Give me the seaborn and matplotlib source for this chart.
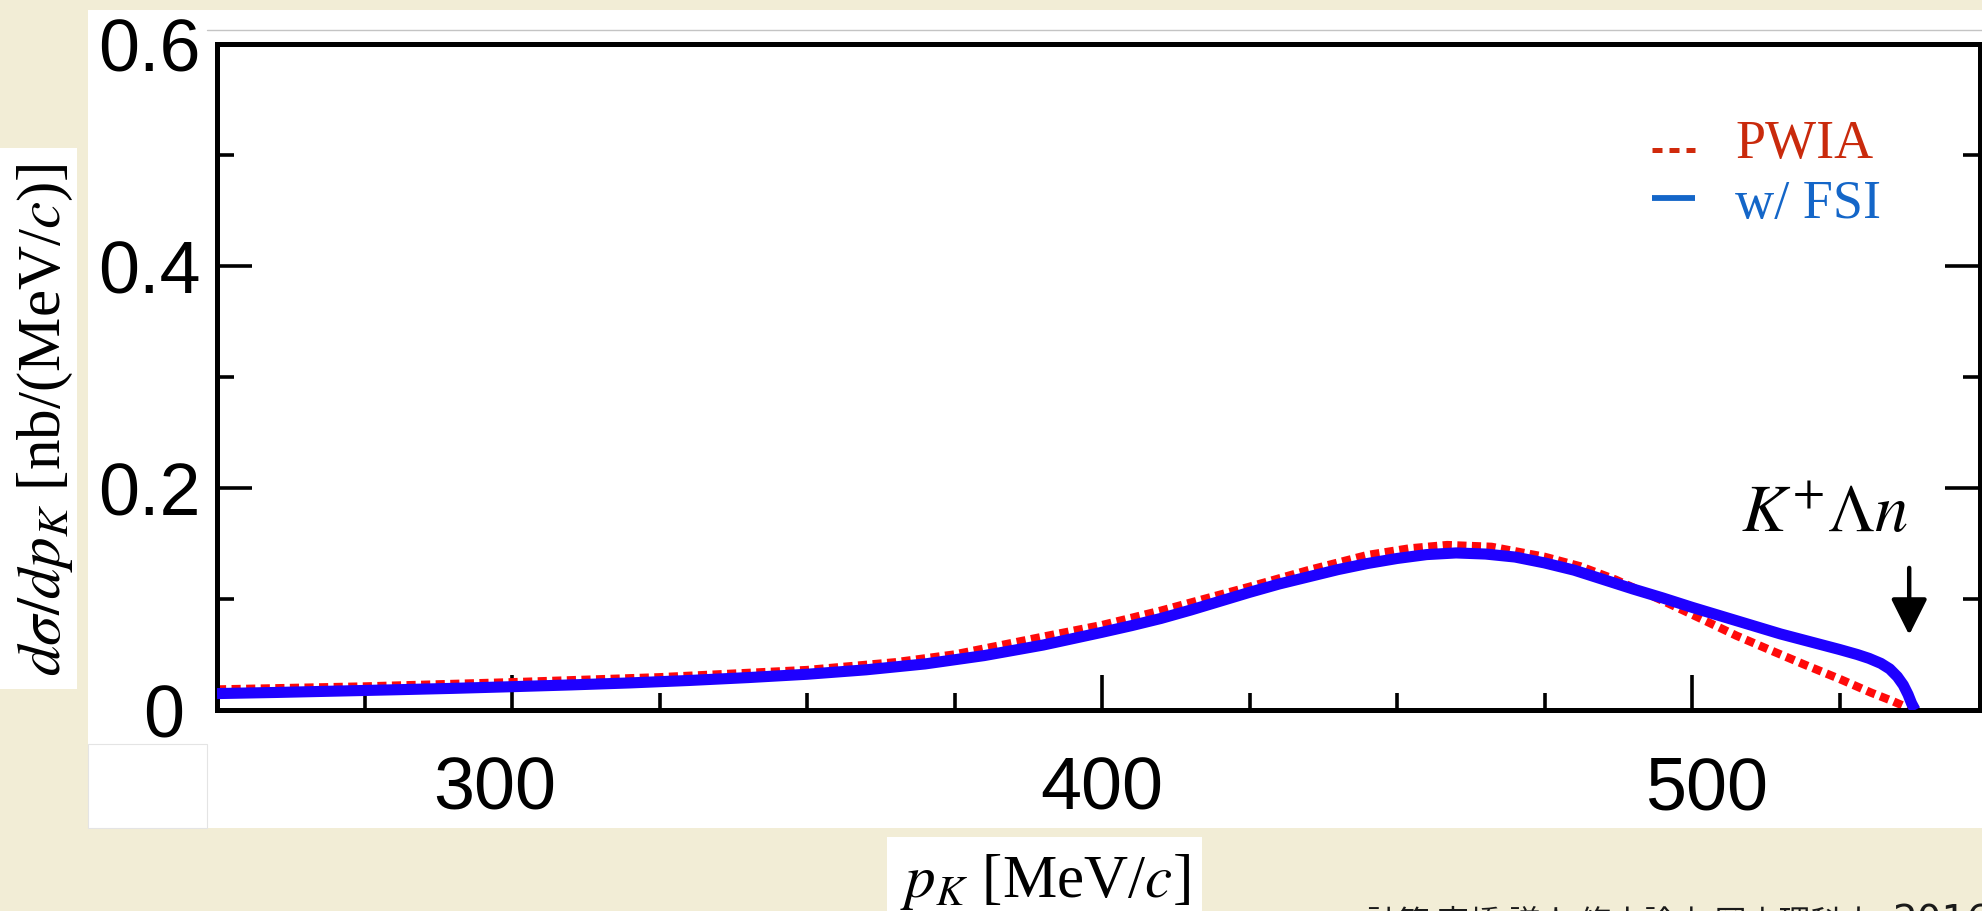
import numpy as np
import pandas as pd
import matplotlib
matplotlib.use("Agg")
import matplotlib.pyplot as plt
import matplotlib.transforms as mtransforms
from matplotlib.patches import Rectangle
from matplotlib.lines import Line2D
from matplotlib.ticker import FixedLocator
import seaborn as sns

# ---------------- data ----------------
p_fsi = [250, 260, 270, 280, 290, 300, 310, 320, 330, 340, 350, 360, 370, 380,
         390, 400, 405, 410, 415, 420, 425, 430, 435, 440, 445, 450, 455, 460,
         465, 470, 475, 480, 485, 490, 495, 500, 505, 510, 515, 520, 525, 528,
         530, 532, 533.5, 534.8, 535.8, 536.6, 537.2, 537.8]
sigma_fsi = [0.0148, 0.0158, 0.0170, 0.0182, 0.0195, 0.0210, 0.0226, 0.0244,
             0.0266, 0.0292, 0.0322, 0.0362, 0.0415, 0.0490, 0.0585, 0.0700,
             0.0760, 0.0825, 0.0900, 0.0980, 0.1060, 0.1135, 0.1200, 0.1265,
             0.1320, 0.1365, 0.1400, 0.1415, 0.1405, 0.1378, 0.1325, 0.1260,
             0.1175, 0.1090, 0.1010, 0.0925, 0.0845, 0.0765, 0.0685, 0.0615,
             0.0545, 0.0500, 0.0465, 0.0420, 0.0370, 0.0300, 0.0225, 0.0140,
             0.0060, 0.0]

p_pwia = [250, 275, 300, 325, 350, 365, 375, 383, 390, 400, 410, 418, 425, 435,
          445, 452, 458.5, 466, 475, 481, 487, 491, 495, 500, 507.5, 513, 519,
          525, 530.4, 534, 536.6, 537.3]
sigma_pwia = [0.0185, 0.0212, 0.0250, 0.0295, 0.0360, 0.0430, 0.0500, 0.0585,
              0.0660, 0.0765, 0.0895, 0.1010, 0.1110, 0.1260, 0.1396, 0.1455,
              0.1486, 0.1470, 0.1380, 0.1295, 0.1175, 0.1080, 0.0985, 0.0860,
              0.0670, 0.0545, 0.0410, 0.0280, 0.0155, 0.0080, 0.0020, 0.0]

x_major = [300, 400, 500]
x_minor = [275, 325, 350, 375, 425, 450, 475, 525]
y_major = [0.0, 0.2, 0.4, 0.6]
y_major_labels = ["0", "0.2", "0.4", "0.6"]
y_minor = [0.1, 0.3, 0.5]
legend_labels = ["PWIA", "w/ FSI"]
threshold_p = 536.8
threshold_label = r"$K^{+}\Lambda n$"
xlabel_text = r"$p_K$ [MeV/$c$]"
ylabel_text = r"$d\sigma/dp_K$ [nb/(MeV/$c$)]"
credit_words = "計算 高橋 謙人 修士論文 岡山理科大"
credit_year = "2016"

# ---------------- styling ----------------
W, H = 1982, 911
sns.set_theme(style="white")
plt.rcParams["font.family"] = ["Liberation Sans", "DejaVu Sans"]
plt.rcParams["mathtext.fontset"] = "stix"

fig = plt.figure(figsize=(W / 100, H / 100), dpi=100)
fig.patch.set_facecolor("#f2edd6")


def fx(px):
    return px / W


def fy(py):
    return 1 - py / H


def white_box(x0, y0, x1, y1, ec="none", lw=0.0):
    fig.add_artist(Rectangle((fx(x0), fy(y1)), fx(x1) - fx(x0), fy(y0) - fy(y1),
                             transform=fig.transFigure, facecolor="white",
                             edgecolor=ec, linewidth=lw, zorder=0))


white_box(88, 10, 1982, 828)
white_box(0, 148, 77, 689)
white_box(887, 837, 1202, 911)
white_box(88, 744, 207, 828, ec="#e4e4e4", lw=0.8)
fig.add_artist(Line2D([fx(207), fx(1982)], [fy(30), fy(30)], transform=fig.transFigure,
                      color="#c4c4c4", lw=1.0, zorder=1))

ax = fig.add_axes([fx(217), fy(710), fx(1980) - fx(217), fy(44) - fy(710)])
ax.set_facecolor("white")

df_pwia = pd.DataFrame({"p": p_pwia, "sigma": sigma_pwia})
df_fsi = pd.DataFrame({"p": p_fsi, "sigma": sigma_fsi})

sns.lineplot(data=df_pwia, x="p", y="sigma", ax=ax, color="#ff0a0a", linewidth=6.0,
             estimator=None, sort=False, zorder=2)
red_line = ax.lines[-1]
red_line.set_dashes((1.1, 0.65))
red_line.set_dash_capstyle("butt")
red_line.set_dash_joinstyle("round")

sns.lineplot(data=df_fsi, x="p", y="sigma", ax=ax, color="#1e00ff", linewidth=8.0,
             estimator=None, sort=False, zorder=3)
ax.lines[-1].set_solid_capstyle("butt")
ax.lines[-1].set_solid_joinstyle("round")

ax.set_xlim(250, 548.8)
ax.set_ylim(0, 0.6)
ax.set_xlabel("")
ax.set_ylabel("")

ax.set_xticks(x_major, labels=[str(v) for v in x_major])
ax.xaxis.set_minor_locator(FixedLocator(x_minor))
ax.set_yticks(y_major, labels=y_major_labels)
ax.yaxis.set_minor_locator(FixedLocator(y_minor))

for s in ax.spines.values():
    s.set_visible(True)
    s.set_color("black")
    s.set_linewidth(3.6)

ax.tick_params(which="major", direction="in", length=25, width=2.6, color="black")
ax.tick_params(which="minor", direction="in", length=12.5, width=2.6, color="black")
ax.tick_params(axis="x", which="both", bottom=True, top=False)
ax.tick_params(axis="y", which="both", left=True, right=True)
ax.tick_params(axis="x", labelsize=53, pad=33, labelcolor="black")
ax.tick_params(axis="y", labelsize=53, pad=12, labelcolor="black")


def shift_label(tick, dx_px):
    tick.label1.set_transform(tick.label1.get_transform() +
                              mtransforms.ScaledTranslation(dx_px / 100, 0,
                                                            fig.dpi_scale_trans))


# small label offsets seen in the reference
shift_label(ax.yaxis.get_major_ticks()[0], -16)
xt = ax.xaxis.get_major_ticks()
shift_label(xt[0], -17)
shift_label(xt[2], 14)

# axis titles (serif)
fig.text(fx(45), fy(420), ylabel_text, rotation=90, ha="center", va="center",
         fontsize=44, family="Liberation Serif", color="black")
fig.text(fx(1045), fy(897), xlabel_text, ha="center", va="baseline",
         fontsize=44, family="Liberation Serif", color="black")

# legend (manual)
fig.add_artist(Line2D([fx(1652), fx(1695)], [fy(150), fy(150)], transform=fig.transFigure,
                      color="#d02a0c", lw=3.6, dashes=(2.0, 1.4), dash_capstyle="butt"))
fig.add_artist(Line2D([fx(1652), fx(1695)], [fy(198), fy(198)], transform=fig.transFigure,
                      color="#1466c8", lw=4.2, solid_capstyle="butt"))
fig.text(fx(1735), fy(158), legend_labels[0], color="#c92a0c", fontsize=39,
         family="Liberation Serif", va="baseline", ha="left")
fig.text(fx(1735), fy(218), legend_labels[1], color="#1466c8", fontsize=39,
         family="Liberation Serif", va="baseline", ha="left")

# threshold annotation
ax.text(522.5, 0.160, threshold_label, ha="center", va="baseline", fontsize=48,
        color="black")
ax.annotate("", xy=(threshold_p, 0.0676), xytext=(threshold_p, 0.128),
            arrowprops=dict(arrowstyle="-|>,head_length=1.1,head_width=0.55",
                            mutation_scale=20, color="black", lw=3.2,
                            shrinkA=0, shrinkB=0))

# credit line (cut off at the bottom edge, as in the reference)
fig.text(fx(1366), fy(933), credit_words, ha="left", va="baseline", fontsize=23,
         family=["Noto Sans CJK JP", "DejaVu Sans"], color="#1a1a1a")
fig.text(fx(1892), fy(933), credit_year, ha="left", va="baseline", fontsize=28,
         family=["DejaVu Sans"], color="#1a1a1a")

fig.savefig("out.png", dpi=100, facecolor=fig.get_facecolor())
